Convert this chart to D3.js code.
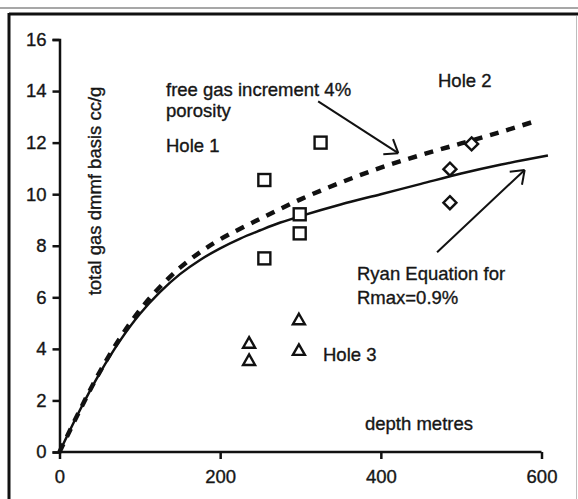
<!DOCTYPE html>
<html>
<head>
<meta charset="utf-8">
<script src="https://cdn.jsdelivr.net/npm/d3@7"></script>
<style>
  body { margin: 0; background: #fff; }
  svg text { font-family: "Liberation Sans", Arial, sans-serif; fill: #161616; stroke: #161616; stroke-width: 0.35px; }
</style>
</head>
<body>
<svg id="chart" width="578" height="499"></svg>
<script>
// axis ticks
const xTicks = [0, 200, 400, 600];
const yTicks = [0, 2, 4, 6, 8, 10, 12, 14, 16];

// Hole 1 (squares)
const hole1Depth = [255, 325, 299, 299, 255];
const hole1Gas = [10.55, 12.0, 9.22, 8.48, 7.51];
// Hole 2 (diamonds)
const hole2Depth = [513, 486, 486];
const hole2Gas = [11.95, 10.97, 9.67];
// Hole 3 (triangles)
const hole3Depth = [236, 236, 298, 298];
const hole3Gas = [4.24, 3.57, 5.15, 3.96];

// Ryan equation curve (solid)
const ryanDepth = [0, 25, 50, 75, 100, 125, 150, 175, 200, 225, 250, 275, 300, 350, 400, 450, 500, 550, 608];
const ryanGas = [0, 1.6, 3.05, 4.3, 5.35, 6.2, 6.9, 7.45, 7.9, 8.28, 8.6, 8.9, 9.15, 9.6, 10.0, 10.4, 10.8, 11.15, 11.5];
// free gas increment 4% porosity (dashed)
const freeDepth = [0, 25, 50, 75, 100, 125, 150, 175, 200, 250, 300, 350, 400, 450, 500, 550, 594];
const freeGas = [0, 1.6, 3.1, 4.4, 5.5, 6.4, 7.15, 7.75, 8.25, 9.05, 9.8, 10.45, 11.03, 11.52, 11.97, 12.42, 12.85];

var svg = d3.select('#chart');

// frame of the scanned figure
svg.append('line').attr('x1', 0).attr('x2', 578).attr('y1', 8).attr('y2', 8)
  .attr('stroke', '#8a8a8a').attr('stroke-width', 1.5);
svg.append('line').attr('x1', 9).attr('x2', 578).attr('y1', 14).attr('y2', 14)
  .attr('stroke', '#111').attr('stroke-width', 3);
svg.append('line').attr('x1', 9).attr('x2', 9).attr('y1', 13).attr('y2', 499)
  .attr('stroke', '#111').attr('stroke-width', 3);
svg.append('line').attr('x1', 576.5).attr('x2', 576.5).attr('y1', 16).attr('y2', 499)
  .attr('stroke', '#bdbdbd').attr('stroke-width', 1);

var x = d3.scaleLinear().domain([0, 600]).range([59.5, 541.5]);
var y = d3.scaleLinear().domain([0, 16]).range([452, 39.5]);

// axes
var xAxis = svg.append('g')
  .attr('transform', 'translate(0,452)')
  .call(d3.axisBottom(x).tickValues(xTicks).tickSizeOuter(0).tickSize(7).tickPadding(11));
var yAxis = svg.append('g')
  .attr('transform', 'translate(59.5,0)')
  .call(d3.axisLeft(y).tickValues(yTicks).tickSizeOuter(0).tickSize(7).tickPadding(6));

[xAxis, yAxis].forEach(function(g) {
  g.selectAll('path, line').attr('stroke', '#111').attr('stroke-width', 2.5);
  g.selectAll('text').attr('font-size', '18.5px').attr('fill', '#161616')
    .attr('font-family', '"Liberation Sans", Arial, sans-serif');
});
xAxis.select('.domain').attr('d', 'M' + x(0) + ',0H' + x(600));

// curves
var ryanLine = d3.line()
  .x(function(d, i) { return x(ryanDepth[i]); })
  .y(function(d) { return y(d); })
  .curve(d3.curveCatmullRom.alpha(0.5));
svg.append('path')
  .datum(ryanGas)
  .attr('d', ryanLine)
  .attr('fill', 'none')
  .attr('stroke', '#111')
  .attr('stroke-width', 2.5);

var freeLine = d3.line()
  .x(function(d, i) { return x(freeDepth[i]); })
  .y(function(d) { return y(d); })
  .curve(d3.curveCatmullRom.alpha(0.5));
svg.append('path')
  .datum(freeGas)
  .attr('d', freeLine)
  .attr('fill', 'none')
  .attr('stroke', '#111')
  .attr('stroke-width', 4.5)
  .attr('stroke-dasharray', '9,8');

// markers
svg.selectAll('.hole1')
  .data(hole1Gas)
  .enter().append('rect')
  .attr('class', 'hole1')
  .attr('x', function(d, i) { return x(hole1Depth[i]) - 6; })
  .attr('y', function(d) { return y(d) - 6; })
  .attr('width', 12).attr('height', 12)
  .attr('fill', '#fff').attr('stroke', '#111').attr('stroke-width', 2.4);

svg.selectAll('.hole2')
  .data(hole2Gas)
  .enter().append('path')
  .attr('class', 'hole2')
  .attr('d', 'M0,-6.5L6.5,0L0,6.5L-6.5,0Z')
  .attr('transform', function(d, i) { return 'translate(' + x(hole2Depth[i]) + ',' + y(d) + ')'; })
  .attr('fill', '#fff').attr('stroke', '#111').attr('stroke-width', 2.4);

svg.selectAll('.hole3')
  .data(hole3Gas)
  .enter().append('path')
  .attr('class', 'hole3')
  .attr('d', 'M0,-5.5L6,5L-6,5Z')
  .attr('transform', function(d, i) { return 'translate(' + x(hole3Depth[i]) + ',' + y(d) + ')'; })
  .attr('fill', '#fff').attr('stroke', '#111').attr('stroke-width', 2.4)
  .attr('stroke-linejoin', 'miter');

// annotation arrows
function arrow(x0, y0, x1, y1) {
  var ax = x(x0), ay = y(y0), bx = x(x1), by = y(y1);
  var ang = Math.atan2(ay - by, ax - bx);
  var g = svg.append('g').attr('stroke', '#111').attr('stroke-width', 2).attr('fill', 'none');
  g.append('line').attr('x1', ax).attr('y1', ay).attr('x2', bx).attr('y2', by);
  [-0.64, 0.64].forEach(function(a) {
    g.append('line').attr('x1', bx).attr('y1', by)
      .attr('x2', bx + 15 * Math.cos(ang + a))
      .attr('y2', by + 15 * Math.sin(ang + a));
  });
}
arrow(322, 13.6, 421.7, 11.59);
arrow(470, 7.75, 579, 10.94);

// labels
function label(txt, px, py) {
  svg.append('text').attr('x', px).attr('y', py).attr('font-size', '18.5px').text(txt);
}
label('free gas increment 4%', 166, 96);
label('porosity', 166, 117);
label('Hole 1', 166, 152);
label('Hole 2', 438, 87);
label('Ryan Equation for', 357, 280);
label('Rmax=0.9%', 357, 304);
label('Hole 3', 323, 361);
label('depth metres', 365, 430);

svg.append('text')
  .attr('transform', 'translate(101,191) rotate(-90)')
  .attr('text-anchor', 'middle')
  .attr('font-size', '18.5px')
  .text('total gas dmmf basis cc/g');
</script>
</body>
</html>
